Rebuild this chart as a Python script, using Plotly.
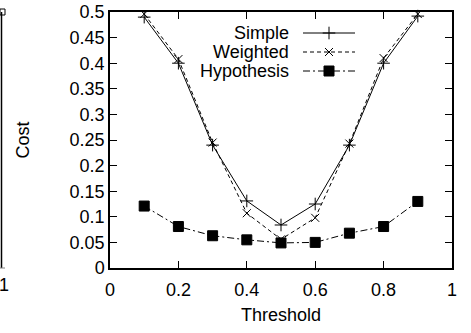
import plotly.graph_objects as go

thresholds = [0.1, 0.2, 0.3, 0.4, 0.5, 0.6, 0.7, 0.8, 0.9]
simple = [0.490, 0.400, 0.240, 0.131, 0.084, 0.125, 0.240, 0.400, 0.492]
weighted = [0.496, 0.408, 0.245, 0.107, 0.056, 0.098, 0.243, 0.410, 0.496]
hypothesis = [0.121, 0.081, 0.063, 0.055, 0.049, 0.050, 0.068, 0.081, 0.130]
series_names = ["Simple", "Weighted", "Hypothesis"]

FONT = "Liberation Sans, Arial, Helvetica, sans-serif"
W, H = 471, 333
L, R, T, B = 110, 19, 12, 65

styles = {
    "Simple": dict(dash="solid", symbol="cross-thin", size=9),
    "Weighted": dict(dash="4px,3px", symbol="x-thin", size=8),
    "Hypothesis": dict(dash="7px,3px,2px,3px", symbol="square", size=10),
}
series_vals = {"Simple": simple, "Weighted": weighted, "Hypothesis": hypothesis}

fig = go.Figure()
for name in series_names:
    st = styles[name]
    fig.add_trace(go.Scatter(
        x=thresholds, y=series_vals[name], mode="lines+markers", name=name,
        line=dict(color="black", width=1, dash=st["dash"]),
        marker=dict(symbol=st["symbol"], size=st["size"], color="black",
                    line=dict(color="black", width=1)),
        showlegend=False, cliponaxis=False,
    ))

# gnuplot-style key: text right-aligned, then sample line with marker (pixel layout on overlay axes)
key_text_right = 291
key_x0, key_x1 = 303, 355
key_rows = [33, 52, 71]
for name, ry in zip(series_names, key_rows):
    st = styles[name]
    fig.add_trace(go.Scatter(
        x=[key_x0, key_x1], y=[ry, ry], mode="lines", xaxis="x2", yaxis="y2",
        line=dict(color="black", width=1, dash=st["dash"]), showlegend=False, hoverinfo="skip"))
    fig.add_trace(go.Scatter(
        x=[(key_x0 + key_x1) / 2], y=[ry], mode="markers", xaxis="x2", yaxis="y2",
        marker=dict(symbol=st["symbol"], size=st["size"], color="black",
                    line=dict(color="black", width=1)),
        showlegend=False, hoverinfo="skip"))
    fig.add_annotation(x=key_text_right, y=ry, xref="x2", yref="y2", text=name,
                       showarrow=False, xanchor="right", yanchor="middle",
                       font=dict(family=FONT, size=18, color="black"))

axis_common = dict(showline=True, linecolor="black", linewidth=1.5, mirror="ticks",
                   ticks="inside", ticklen=7, tickwidth=1, tickcolor="black",
                   showgrid=False, zeroline=False, automargin=False,
                   tickfont=dict(family=FONT, size=18, color="black"))

fig.update_layout(
    width=W, height=H, margin=dict(l=L, r=R, t=T, b=B, autoexpand=False),
    paper_bgcolor="white", plot_bgcolor="white",
    font=dict(family=FONT, size=18, color="black"),
    xaxis=dict(range=[0, 1], tickvals=[0, 0.2, 0.4, 0.6, 0.8, 1],
               ticktext=["0", "0.2", "0.4", "0.6", "0.8", "1"],
               ticklabelstandoff=5,
               title=dict(text="Threshold", font=dict(family=FONT, size=18), standoff=9),
               **axis_common),
    yaxis=dict(range=[0, 0.5], tickvals=[0, 0.05, 0.1, 0.15, 0.2, 0.25, 0.3, 0.35, 0.4, 0.45, 0.5],
               ticktext=["0", "0.05", "0.1", "0.15", "0.2", "0.25", "0.3", "0.35", "0.4", "0.45", "0.5"],
               title=dict(text="Cost", font=dict(family=FONT, size=18), standoff=35),
               **axis_common),
    xaxis2=dict(range=[L, W - R], overlaying="x", visible=False, fixedrange=True),
    yaxis2=dict(range=[H - B, T], overlaying="y", visible=False, fixedrange=True),
)

# partial edge of the neighbouring panel on the left
def px(xp):
    return (xp - L) / (W - L - R)

def py(yp):
    return 1 - (yp - T) / (H - T - B)

fig.add_shape(type="line", xref="paper", yref="paper", x0=px(1.5), x1=px(1.5), y0=py(12), y1=py(268),
              line=dict(color="black", width=1.5))
fig.add_shape(type="line", xref="paper", yref="paper", x0=px(0), x1=px(5), y0=py(268), y1=py(268),
              line=dict(color="gray", width=1))
fig.add_shape(type="rect", xref="paper", yref="paper", x0=px(0), x1=px(5), y0=py(15), y1=py(9),
              line=dict(color="black", width=1))
fig.add_annotation(x=px(4), y=py(285), xref="paper", yref="paper", text="1", showarrow=False,
                   xanchor="center", yanchor="middle", font=dict(family=FONT, size=18, color="black"))

fig.write_html("out.html")
